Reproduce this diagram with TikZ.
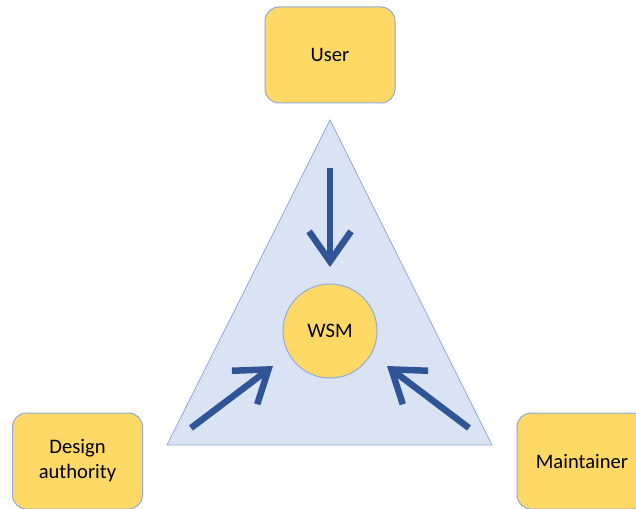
\documentclass[tikz,border=0pt]{standalone}
\usepackage{fontspec}
\setmainfont{Carlito}
\usepackage{xcolor}
\usepackage{tikz}
\usetikzlibrary{arrows.meta}

\definecolor{rolefill}{HTML}{FFD966}
\definecolor{roleline}{HTML}{8FAADC}
\definecolor{trifill}{HTML}{DAE3F3}
\definecolor{triline}{HTML}{8FAADC}
\definecolor{pushblue}{HTML}{2F5597}

\begin{document}
\begin{tikzpicture}[x=1pt,y=-1pt,
  role/.style={draw=roleline, fill=rolefill, line width=1pt, rounded corners=14pt,
    minimum width=130pt, minimum height=96pt, align=center,
    font=\fontsize{20.6}{25}\selectfont},
  push/.style={draw=pushblue, line width=6.5pt,
    -{Straight Barb[length=30pt,width=42pt]}}]

\useasboundingbox (0,0) rectangle (636,508);

% Triangle
\draw[draw=triline, fill=trifill, line width=0.8pt] (330,120) -- (492,445) -- (167,445) -- cycle;

% Roles
\node[role] (user) at (330,55) {User};
\node[role] (design) at (77.5,461) {Design\\authority};
\node[role] (maint) at (582,461) {Maintainer};

% WSM
\node[circle, draw=roleline, fill=rolefill, line width=1pt, minimum size=94pt, inner sep=0pt,
  font=\fontsize{20.6}{25}\selectfont] (wsm) at (330,331) {WSM};

% Arrows
\coordinate (userTail) at (330,168);
\coordinate (userTip) at (330,267);
\coordinate (designTail) at (191,428);
\coordinate (designTip) at (273,366);
\coordinate (maintTail) at (469,428);
\coordinate (maintTip) at (387,366);

\draw[push] (userTail) -- (userTip);
\draw[push] (designTail) -- (designTip);
\draw[push] (maintTail) -- (maintTip);

\end{tikzpicture}
\end{document}
